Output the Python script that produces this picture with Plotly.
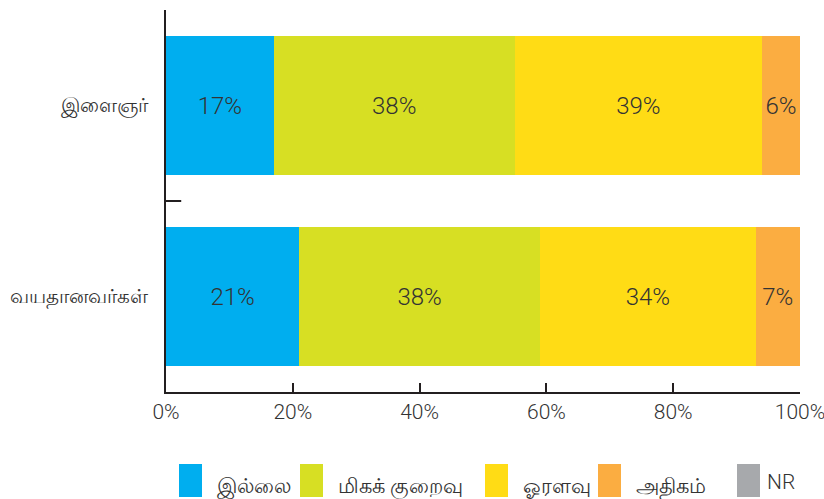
import plotly.graph_objects as go

categories = ["இளைஞர்", "வயதானவர்கள்"]
series_names = ["இல்லை", "மிகக் குறைவு", "ஓரளவு", "அதிகம்", "NR"]
values_none = [17, 21]
values_very_low = [38, 38]
values_moderate = [39, 34]
values_high = [6, 7]
values_nr = [0, 0]
series_values = [values_none, values_very_low, values_moderate, values_high, values_nr]
colors = ["#00AEEF", "#D7DF23", "#FFDC15", "#FBAD41", "#A7A9AC"]
x_ticks = [0, 20, 40, 60, 80, 100]
x_tick_labels = ["0%", "20%", "40%", "60%", "80%", "100%"]

FONT = "Roboto, Noto Sans, sans-serif"
TAMIL = "Noto Sans, sans-serif"
AX = "#231f20"
TXT = "#333333"

fig = go.Figure()
for name, vals, col in zip(series_names, series_values, colors):
    fig.add_trace(go.Bar(
        y=categories, x=vals, name=name, orientation="h",
        marker=dict(color=col, line=dict(width=0)),
        width=0.73,
        text=[f"{v}%" if v > 0 else "" for v in vals],
        textposition="inside", insidetextanchor="middle",
        textfont=dict(family=FONT, size=24, color=TXT, weight=300),
        constraintext="none",
        showlegend=False,
        hoverinfo="skip",
    ))

fig.update_layout(
    width=824, height=499,
    barmode="stack",
    paper_bgcolor="white", plot_bgcolor="white",
    margin=dict(l=166, r=24, t=10, b=107, autoexpand=False),
    font=dict(family=FONT, color=TXT),
    xaxis=dict(
        range=[0, 100.001], tickvals=x_ticks, ticktext=x_tick_labels,
        showgrid=False, zeroline=False,
        showline=True, linecolor=AX, linewidth=2,
        ticks="inside", ticklen=9, tickwidth=2, tickcolor=AX,
        tickfont=dict(family=FONT, size=21, color=TXT, weight=300),
        ticklabeloverflow="allow",
        automargin=False,
    ),
    yaxis=dict(
        categoryorder="array", categoryarray=categories,
        range=[1.5, -0.5],
        showgrid=False, zeroline=False,
        showline=True, linecolor=AX, linewidth=2,
        ticks="", ticklabelstandoff=12,
        tickfont=dict(family=TAMIL, size=19.5, color=TXT),
        automargin=False,
    ),
)

# middle boundary tick on the category axis
fig.add_shape(type="line", xref="x domain", yref="y",
              x0=0, x1=0.024, y0=0.5, y1=0.5,
              line=dict(color=AX, width=2))

# manual legend (large swatches); positions in page pixels
sw_left = [179, 300, 485, 598, 737]
for name, col, xl in zip(series_names, colors, sw_left):
    fig.add_shape(type="rect", xref="paper", yref="paper",
                  x0=(xl - 166) / 634, x1=(xl + 23 - 166) / 634,
                  y0=(392 - 497) / 382, y1=(392 - 464) / 382,
                  fillcolor=col, line=dict(width=0))
    is_nr = name == "NR"
    fig.add_annotation(xref="paper", yref="paper",
                       x=(xl + (28 if is_nr else 36) - 166) / 634,
                       y=(392 - (482 if is_nr else 485)) / 382,
                       xanchor="left", yanchor="middle", showarrow=False,
                       text=name,
                       font=dict(family=(FONT if is_nr else TAMIL),
                                 size=21, color=TXT,
                                 weight=(300 if is_nr else 400)))

fig.write_html("out.html",
               config={"displayModeBar": False, "staticPlot": True},
               post_script="document.body.style.margin='0';document.body.style.overflow='hidden';")
